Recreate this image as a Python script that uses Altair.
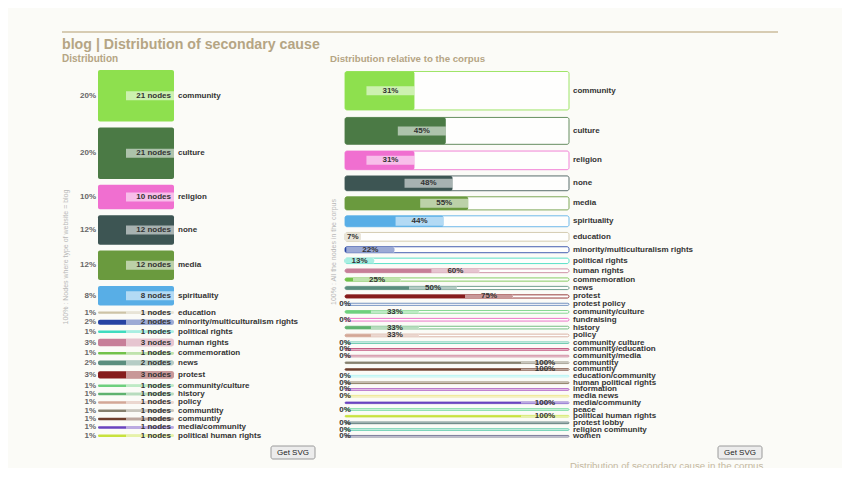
import altair as alt
import pandas as pd

# ---------------- data ----------------
left_categories = [
    "community", "culture", "religion", "none", "media", "spirituality",
    "education", "minority/multiculturalism rights", "political rights",
    "human rights", "commemoration", "news", "protest", "community/culture",
    "history", "policy", "communtity", "communtiy", "media/community",
    "political human rights",
]
left_nodes = [21, 21, 10, 12, 12, 8, 1, 2, 1, 3, 1, 2, 3, 1, 1, 1, 1, 1, 1, 1]

right_categories = [
    "community", "culture", "religion", "none", "media", "spirituality",
    "education", "minority/multiculturalism rights", "political rights",
    "human rights", "commemoration", "news", "protest", "protest policy",
    "community/culture", "fundraising", "history", "policy",
    "community culture", "community/education", "community/media",
    "communtity", "communtiy", "education/community", "human political rights",
    "information", "media news", "media/community", "peace",
    "political human rights", "protest lobby", "religion community", "women",
]
right_percent = [31, 45, 31, 48, 55, 44, 7, 22, 13, 60, 25, 50, 75, 0, 33, 0,
                 33, 33, 0, 0, 0, 100, 100, 0, 0, 0, 0, 100, 0, 100, 0, 0, 0]
corpus_nodes = [68, 47, 32, 25, 22, 18, 14, 9, 8, 5, 4, 4, 4, 2, 3, 3,
                3, 3, 1, 1, 1, 1, 1, 1, 1, 1, 1, 1, 1, 1, 1, 1, 1]

palette = {
    "community": "#8ee04e", "culture": "#4b7a45", "religion": "#f06fd0",
    "none": "#3d5553", "media": "#6a9a3e", "spirituality": "#58aee6",
    "education": "#cdc3a6", "minority/multiculturalism rights": "#2543a3",
    "political rights": "#3fdcbf", "human rights": "#c77f98",
    "commemoration": "#72c24a", "news": "#5b8e7e", "protest": "#861c1c",
    "community/culture": "#6ed07e", "history": "#5fb26f", "policy": "#d3a897",
    "communtity": "#85806e", "communtiy": "#6e3e2c",
    "media/community": "#6a44c0", "political human rights": "#c8e23e",
    "protest policy": "#5a7fb5", "fundraising": "#e85fc0",
    "community culture": "#5cc4a6", "community/education": "#b0245a",
    "community/media": "#c87890", "education/community": "#a8f2f2",
    "human political rights": "#7a6a4c", "information": "#a040b8",
    "media news": "#ece47e", "peace": "#5cd690", "protest lobby": "#3e6262",
    "religion community": "#48c4a0", "women": "#66668a",
}

# ---------------- layout constants ----------------
FONT = "Liberation Sans"
TOP, BOTTOM = 62, 429
L_X0, L_X1 = 90, 166
R_X0, R_X1 = 337, 561
LABEL_W = 48
LABEL_H = 9

# left panel table
total = sum(left_nodes)
L_GAP = 2.4
rows, pos = [], 0.0
for cat, n in zip(left_categories, left_nodes):
    rows.append({"cat": cat, "n": n, "y0": pos, "y1": pos + n,
                 "color": palette[cat]})
    pos += n + L_GAP
left_extent = pos - L_GAP
kL = (BOTTOM - TOP) / left_extent
ldf = pd.DataFrame(rows)
ldf["mid"] = (ldf.y0 + ldf.y1) / 2
half = ldf.n.clip(upper=LABEL_H / kL) / 2
ldf["by0"] = ldf.mid - half
ldf["by1"] = ldf.mid + half
ldf["start"] = 0.0
ldf["end"] = 1.0
ldf["box0"] = 1 - LABEL_W / (L_X1 - L_X0)
ldf["pct"] = [f"{round(100 * n / total)}%" for n in ldf.n]
ldf["nodes"] = [f"{n} nodes" for n in ldf.n]

# right panel table: bar thickness grows with the corpus count
heights = [0.55 * c + 1.0 for c in corpus_nodes]
rows, pos = [], 0.0
for i, (cat, p, h) in enumerate(zip(right_categories, right_percent, heights)):
    if i > 0:
        pos += 5.0 + 0.075 * (heights[i - 1] + h) / 2
    rows.append({"cat": cat, "p": p, "y0": pos, "y1": pos + h, "h": h,
                 "color": palette[cat]})
    pos += h
right_extent = pos
R_TOP = TOP + 1.5
kR = (BOTTOM - R_TOP) / right_extent
rdf = pd.DataFrame(rows)
rdf["mid"] = (rdf.y0 + rdf.y1) / 2
half = rdf.h.clip(upper=LABEL_H / kR) / 2
rdf["by0"] = rdf.mid - half
rdf["by1"] = rdf.mid + half
rdf["start"] = 0.0
rdf["end"] = 1.0
rdf["frac"] = rdf.p / 100
rdf["box0"] = (rdf.frac - LABEL_W / (R_X1 - R_X0)).clip(lower=0)
rdf["boxmid"] = (rdf.box0 + rdf.frac) / 2
rdf["pct"] = [f"{p}%" for p in rdf.p]

LX = alt.Scale(domain=[0, 1], range=[L_X0, L_X1], nice=False, zero=False)
LY = alt.Scale(domain=[0, left_extent], range=[TOP, BOTTOM], nice=False, zero=False)
RX = alt.Scale(domain=[0, 1], range=[R_X0, R_X1], nice=False, zero=False)
RY = alt.Scale(domain=[0, right_extent], range=[R_TOP, BOTTOM], nice=False, zero=False)

col = alt.Color("color:N", scale=None, legend=None)

# ---------------- left panel ----------------
lb = alt.Chart(ldf)
l_bar = lb.mark_rect(cornerRadius=2).encode(
    x=alt.X("start:Q", scale=LX, axis=None), x2="end:Q",
    y=alt.Y("y0:Q", scale=LY, axis=None), y2="y1:Q", color=col)
l_box = lb.mark_rect(color="white", opacity=0.55).encode(
    x=alt.X("box0:Q", scale=LX, axis=None), x2="end:Q",
    y=alt.Y("by0:Q", scale=LY, axis=None), y2="by1:Q")
l_nodes = lb.mark_text(align="right", baseline="middle", dx=-3, font=FONT,
                       fontSize=8, fontWeight="bold", color="#333333").encode(
    x=alt.X("end:Q", scale=LX, axis=None),
    y=alt.Y("mid:Q", scale=LY, axis=None), text="nodes:N")
l_pct = lb.mark_text(align="right", baseline="middle", dx=-2, font=FONT,
                     fontSize=8, fontWeight="bold", color="#666666").encode(
    x=alt.X("start:Q", scale=LX, axis=None),
    y=alt.Y("mid:Q", scale=LY, axis=None), text="pct:N")
l_cat = lb.mark_text(align="left", baseline="middle", dx=4, font=FONT,
                     fontSize=8, fontWeight="bold", color="#333333").encode(
    x=alt.X("end:Q", scale=LX, axis=None),
    y=alt.Y("mid:Q", scale=LY, axis=None), text="cat:N")

# ---------------- right panel ----------------
rb = alt.Chart(rdf)
r_outline = rb.mark_rect(cornerRadius=2, fill="#fefefd", strokeWidth=1,
                         strokeOpacity=0.85).encode(
    x=alt.X("start:Q", scale=RX, axis=None), x2="end:Q",
    y=alt.Y("y0:Q", scale=RY, axis=None), y2="y1:Q",
    stroke=alt.Stroke("color:N", scale=None, legend=None))
r_fill = rb.mark_rect(cornerRadius=2).encode(
    x=alt.X("start:Q", scale=RX, axis=None), x2="frac:Q",
    y=alt.Y("y0:Q", scale=RY, axis=None), y2="y1:Q", color=col)
r_box = rb.mark_rect(color="white", opacity=0.55).encode(
    x=alt.X("box0:Q", scale=RX, axis=None), x2="frac:Q",
    y=alt.Y("by0:Q", scale=RY, axis=None), y2="by1:Q")
r_pct = rb.mark_text(align="center", baseline="middle", font=FONT,
                     fontSize=8, fontWeight="bold", color="#333333").encode(
    x=alt.X("boxmid:Q", scale=RX, axis=None),
    y=alt.Y("mid:Q", scale=RY, axis=None), text="pct:N")
r_cat = rb.mark_text(align="left", baseline="middle", dx=4, font=FONT,
                     fontSize=8, fontWeight="bold", color="#333333").encode(
    x=alt.X("end:Q", scale=RX, axis=None),
    y=alt.Y("mid:Q", scale=RY, axis=None), text="cat:N")

# ---------------- page decorations ----------------
one = pd.DataFrame({"t": [""]})


def label(text, x, y, **kw):
    return alt.Chart(pd.DataFrame({"t": [text]})).mark_text(font=FONT, **kw).encode(
        x=alt.value(x), y=alt.value(y), text="t:N")


TAN = "#b5a584"
top_rule = alt.Chart(one).mark_rule(color="#cbbd9d", strokeWidth=1.5).encode(
    x=alt.value(54), x2=alt.value(770), y=alt.value(24))
title = label("blog | Distribution of secondary cause", 54, 41, align="left",
              baseline="alphabetic", fontSize=14.2, fontWeight="bold", color=TAN)
sub1 = label("Distribution", 54, 51, align="left", baseline="middle",
             fontSize=10, fontWeight="bold", color=TAN)
sub2 = label("Distribution relative to the corpus", 322, 51, align="left",
             baseline="middle", fontSize=9.7, fontWeight="bold", color=TAN)
ax1 = label("100% : Nodes where type of website = blog", 58, 249, angle=270,
            align="center", baseline="middle", fontSize=7, color="#b8b8b8")
ax2 = label("100% : All the nodes in the corpus", 326, 244, angle=270,
            align="center", baseline="middle", fontSize=7, color="#b8b8b8")


def button(x0, x1, y0, y1):
    r = alt.Chart(one).mark_rect(fill="#ececec", stroke="#9a9a9a", strokeWidth=1,
                                 cornerRadius=2).encode(
        x=alt.value(x0), x2=alt.value(x1), y=alt.value(y0), y2=alt.value(y1))
    t = label("Get SVG", (x0 + x1) / 2, (y0 + y1) / 2, align="center",
              baseline="middle", fontSize=8, color="#222222")
    return [r, t]


bottom = label("Distribution of secondary cause in the corpus", 562, 453,
               align="left", baseline="top", fontSize=9.7, color="#c4b8a0")

layers = ([top_rule, title, sub1, sub2, ax1, ax2,
           l_bar, l_box, l_nodes, l_pct, l_cat,
           r_outline, r_fill, r_box, r_pct, r_cat, bottom]
          + button(263, 307, 438, 451) + button(710, 754, 438, 451))

chart = alt.layer(*layers).resolve_scale(
    x="independent", y="independent", color="independent", stroke="independent"
).properties(
    width=834, height=460, autosize=alt.AutoSizeParams(type="none"),
    padding=0, background="#fbfbf7",
).configure_view(stroke=None)

chart.save("out.html", embed_options={"renderer": "svg", "actions": False})
